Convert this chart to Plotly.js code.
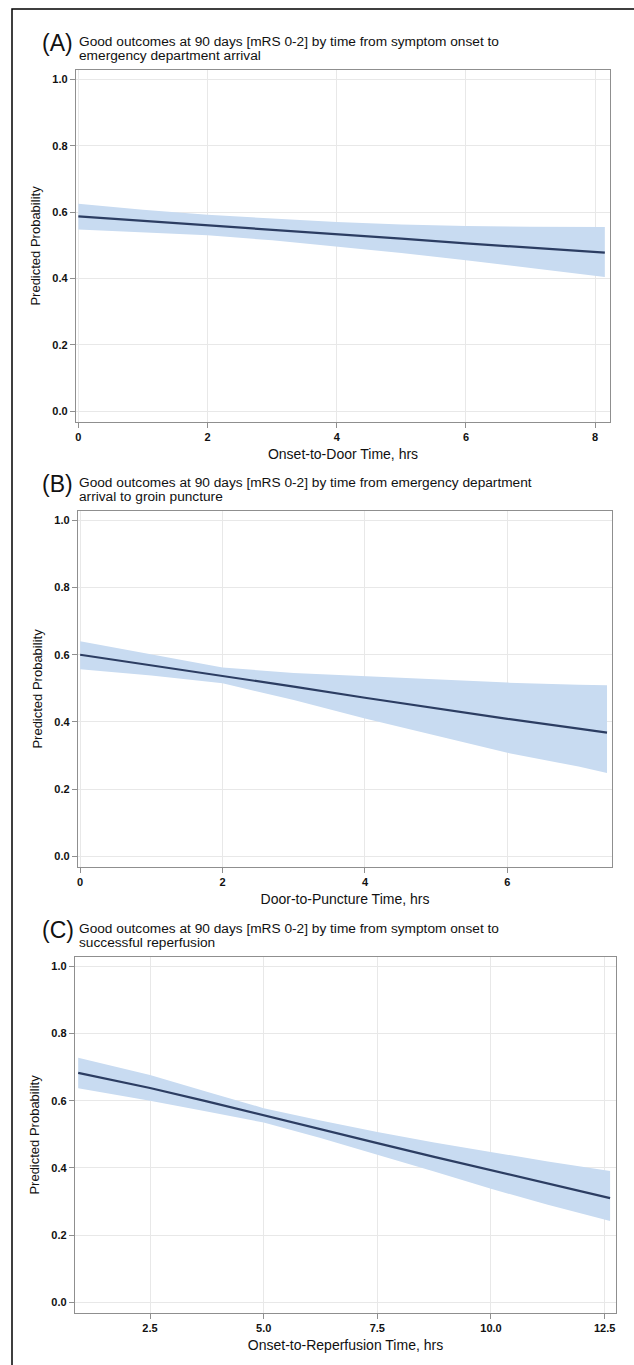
<!DOCTYPE html>
<html>
<head>
<meta charset="utf-8">
<script src="https://cdn.plot.ly/plotly-3.0.1.min.js"></script>
<style>html,body{margin:0;padding:0;background:#fff}#chart{width:634px;height:1365px}</style>
</head>
<body>
<div id="chart"></div>
<script>
// Panel A: onset-to-door
const xA   = [0, 1, 2, 3, 4, 5, 6, 7, 8.15];
const fitA = [0.587, 0.574, 0.561, 0.547, 0.534, 0.520, 0.506, 0.493, 0.478];
const upA  = [0.625, 0.607, 0.592, 0.580, 0.570, 0.563, 0.558, 0.556, 0.555];
const loA  = [0.548, 0.540, 0.530, 0.515, 0.497, 0.477, 0.455, 0.432, 0.405];
// Panel B: door-to-puncture
const xB   = [0, 1, 2, 3, 4, 5, 6, 7, 7.4];
const fitB = [0.600, 0.569, 0.537, 0.505, 0.472, 0.440, 0.409, 0.380, 0.368];
const upB  = [0.640, 0.600, 0.562, 0.546, 0.537, 0.527, 0.517, 0.511, 0.509];
const loB  = [0.557, 0.538, 0.515, 0.465, 0.410, 0.358, 0.308, 0.267, 0.248];
// Panel C: onset-to-reperfusion
const xC   = [0.92, 2.5, 3.75, 5, 6.25, 7.5, 8.75, 10, 11.25, 12.62];
const fitC = [0.683, 0.638, 0.598, 0.556, 0.515, 0.474, 0.433, 0.393, 0.354, 0.310];
const upC  = [0.728, 0.677, 0.627, 0.578, 0.541, 0.507, 0.476, 0.447, 0.419, 0.391];
const loC  = [0.637, 0.600, 0.568, 0.535, 0.489, 0.440, 0.389, 0.338, 0.290, 0.242];

const yTicks = [0, 0.2, 0.4, 0.6, 0.8, 1.0];
const xTicksA = [0, 2, 4, 6, 8];
const xTicksB = [0, 2, 4, 6];
const xTicksC = [2.5, 5, 7.5, 10, 12.5];

const panelLetters = ['(A)', '(B)', '(C)'];
const titleLines = [
  ['Good outcomes at 90 days [mRS 0-2] by time from symptom onset to', 'emergency department arrival'],
  ['Good outcomes at 90 days [mRS 0-2] by time from emergency department', 'arrival to groin puncture'],
  ['Good outcomes at 90 days [mRS 0-2] by time from symptom onset to', 'successful reperfusion']
];
const xTitles = ['Onset-to-Door Time, hrs', 'Door-to-Puncture Time, hrs', 'Onset-to-Reperfusion Time, hrs'];
const yTitle = 'Predicted Probability';

const W = 634, H = 1365;
// plot boxes in pixels [left, right, top, bottom]
const boxes = [[76, 610, 70, 422], [78, 612, 511, 867], [75, 616, 957, 1313]];
const xRanges = [[-0.036, 8.23], [-0.03, 7.47], [0.85, 12.75]];

const FONT = 'Liberation Sans, Arial, sans-serif';
const bandColor = '#c8dbf1';
const lineColor = '#2c3d62';

const data = [];
const sets = [[xA, fitA, upA, loA], [xB, fitB, upB, loB], [xC, fitC, upC, loC]];
sets.forEach((s, i) => {
  const ax = i === 0 ? '' : String(i + 1);
  data.push({x: s[0], y: s[2], xaxis: 'x' + ax, yaxis: 'y' + ax, type: 'scatter', mode: 'lines',
    line: {width: 0, color: bandColor}, showlegend: false, hoverinfo: 'skip'});
  data.push({x: s[0], y: s[3], xaxis: 'x' + ax, yaxis: 'y' + ax, type: 'scatter', mode: 'lines',
    line: {width: 0, color: bandColor}, fill: 'tonexty', fillcolor: bandColor, showlegend: false, hoverinfo: 'skip'});
  data.push({x: s[0], y: s[1], xaxis: 'x' + ax, yaxis: 'y' + ax, type: 'scatter', mode: 'lines',
    line: {width: 2.2, color: lineColor}, showlegend: false});
});

const layout = {
  width: W, height: H,
  margin: {l: 0, r: 0, t: 0, b: 0},
  paper_bgcolor: '#fff', plot_bgcolor: '#fff',
  font: {family: FONT, color: '#111'},
  showlegend: false,
  annotations: [],
  shapes: [{type: 'rect', xref: 'paper', yref: 'paper', x0: 12 / W, x1: 1.05, y0: -0.05, y1: 1 - 9 / H,
    line: {color: '#000', width: 1.5}, fillcolor: 'rgba(0,0,0,0)'}]
};

const xTickSets = [xTicksA, xTicksB, xTicksC];
boxes.forEach((b, i) => {
  const ax = i === 0 ? '' : String(i + 1);
  const common = {
    showline: true, mirror: true, linecolor: '#8f8f8f', linewidth: 1.2,
    showgrid: true, gridcolor: '#e8e8e8', gridwidth: 1, zeroline: false,
    ticks: 'outside', ticklen: 5, tickcolor: '#8f8f8f', tickwidth: 1,
    tickfont: {family: FONT, size: 11, color: '#111', weight: 'bold'},
    fixedrange: true
  };
  layout['xaxis' + ax] = Object.assign({}, common, {
    domain: [b[0] / W, b[1] / W], anchor: 'y' + ax, range: xRanges[i],
    tickmode: 'array', tickvals: xTickSets[i],
    ticktext: xTickSets[i].map(v => i === 2 ? v.toFixed(1) : String(v)),
    title: {text: xTitles[i], font: {family: FONT, size: 14, color: '#111'}, standoff: 6}
  });
  layout['yaxis' + ax] = Object.assign({}, common, {
    domain: [1 - b[3] / H, 1 - b[2] / H], anchor: 'x' + ax, range: [-0.032, 1.028],
    tickmode: 'array', tickvals: yTicks, ticktext: yTicks.map(v => v.toFixed(1)),
    title: {text: yTitle, font: {family: FONT, size: 13, color: '#111'}, standoff: 8}
  });
  const top = b[2];
  layout.annotations.push({xref: 'paper', yref: 'paper', x: 40 / W, y: 1 - (top - 27) / H,
    xanchor: 'left', yanchor: 'middle', showarrow: false, text: panelLetters[i],
    font: {family: FONT, size: 23, color: '#111'}});
  layout.annotations.push({xref: 'paper', yref: 'paper', x: 77 / W, y: 1 - (top - 29) / H,
    xanchor: 'left', yanchor: 'middle', showarrow: false, text: titleLines[i][0],
    font: {family: FONT, size: 13.7, color: '#111'}});
  layout.annotations.push({xref: 'paper', yref: 'paper', x: 77 / W, y: 1 - (top - 14.5) / H,
    xanchor: 'left', yanchor: 'middle', showarrow: false, text: titleLines[i][1],
    font: {family: FONT, size: 13.7, color: '#111'}});
});

Plotly.newPlot('chart', data, layout, {staticPlot: true, displayModeBar: false});
</script>
</body>
</html>
